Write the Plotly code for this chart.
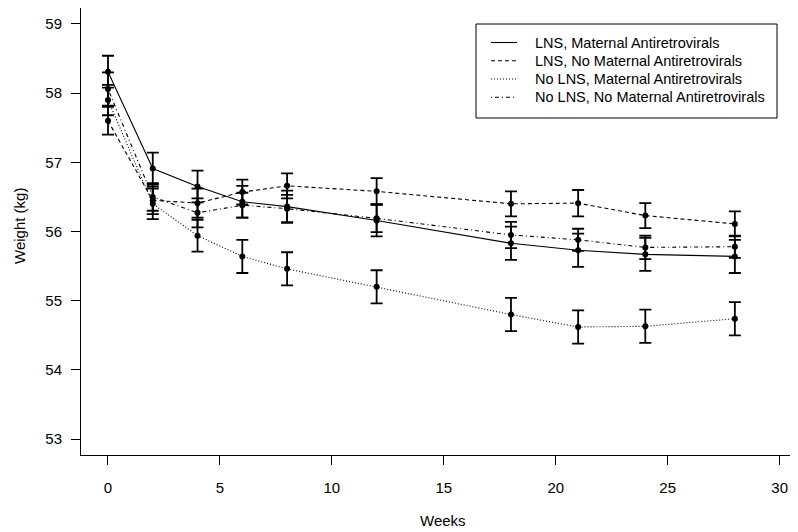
import plotly.graph_objects as go

weeks = [0, 2, 4, 6, 8, 12, 18, 21, 24, 28]

series_names = [
    "LNS, Maternal Antiretrovirals",
    "LNS, No Maternal Antiretrovirals",
    "No LNS, Maternal Antiretrovirals",
    "No LNS, No Maternal Antiretrovirals",
]

lns_art = [58.31, 56.91, 56.65, 56.43, 56.36, 56.16, 55.83, 55.73, 55.67, 55.64]
lns_art_se = [0.23, 0.23, 0.23, 0.23, 0.23, 0.23, 0.24, 0.24, 0.24, 0.24]

lns_noart = [57.60, 56.45, 56.41, 56.57, 56.66, 56.58, 56.40, 56.41, 56.23, 56.11]
lns_noart_se = [0.20, 0.20, 0.21, 0.18, 0.18, 0.19, 0.18, 0.19, 0.18, 0.18]

nolns_art = [57.90, 56.40, 55.94, 55.64, 55.46, 55.20, 54.80, 54.62, 54.63, 54.74]
nolns_art_se = [0.22, 0.22, 0.23, 0.24, 0.24, 0.24, 0.24, 0.24, 0.24, 0.24]

nolns_noart = [58.06, 56.50, 56.27, 56.38, 56.33, 56.19, 55.95, 55.88, 55.77, 55.78]
nolns_noart_se = [0.24, 0.20, 0.21, 0.18, 0.20, 0.20, 0.19, 0.16, 0.17, 0.16]

x_ticks = [0, 5, 10, 15, 20, 25, 30]
y_ticks = [53, 54, 55, 56, 57, 58, 59]

values = [lns_art, lns_noart, nolns_art, nolns_noart]
errors = [lns_art_se, lns_noart_se, nolns_art_se, nolns_noart_se]
dashes = ["solid", "4px,3px", "1px,2px", "1px,3px,4px,3px"]

FONT = "Liberation Sans, Arial, sans-serif"

fig = go.Figure()
for name, v, e, d in zip(series_names, values, errors, dashes):
    fig.add_trace(go.Scatter(
        x=weeks, y=v, mode="lines+markers", name=name, showlegend=False,
        line=dict(color="black", width=1.1, dash=d),
        marker=dict(color="black", size=6),
        error_y=dict(type="data", array=e, visible=True, color="black",
                     thickness=1.8, width=6),
    ))

# Page has an 8px body margin; figure is sized/positioned to compensate.
W, H = 790, 524
L, T = 73, 0
PW, PH = 717, 447
B = H - T - PH
R = W - L - PW


def px(xpage):
    return (xpage - 81) / PW


def py(ypage):
    return (455 - ypage) / PH


# legend box drawn manually to match the reference row spacing
shapes = [dict(type="rect", xref="paper", yref="paper",
               x0=px(476), x1=px(777), y0=py(24), y1=py(118),
               line=dict(color="black", width=1), fillcolor="white", layer="above")]
annotations = []
rows = [42.5, 60.8, 79.0, 97.3]
for name, d, ry in zip(series_names, dashes, rows):
    shapes.append(dict(type="line", xref="paper", yref="paper",
                       x0=px(491), x1=px(517), y0=py(ry), y1=py(ry),
                       line=dict(color="black", width=1.1, dash=d), layer="above"))
    annotations.append(dict(text=name, xref="paper", yref="paper",
                            x=px(533), y=py(ry), xanchor="left", yanchor="middle",
                            showarrow=False, font=dict(family=FONT, size=14.5)))

annotations += [
    dict(text="Weeks", xref="paper", yref="paper",
         x=px(443), y=py(520), xanchor="center", yanchor="middle",
         showarrow=False, font=dict(family=FONT, size=15)),
    dict(text="Weight (kg)", xref="paper", yref="paper",
         x=px(19), y=py(226), xanchor="center", yanchor="middle",
         textangle=-90, showarrow=False, font=dict(family=FONT, size=15)),
]

fig.update_layout(
    template="none",
    width=W, height=H,
    margin=dict(l=L, r=R, t=T, b=B, pad=0, autoexpand=False),
    paper_bgcolor="white", plot_bgcolor="white",
    font=dict(family=FONT, size=15, color="black"),
    showlegend=False,
    xaxis=dict(
        range=[-1.205, 30.82], tickvals=x_ticks, ticktext=[str(t) for t in x_ticks],
        ticks="outside", ticklen=9, tickwidth=1, tickcolor="black",
        showline=True, mirror=True, linecolor="black", linewidth=1,
        showgrid=False, zeroline=False, ticklabelstandoff=10, automargin=False,
    ),
    yaxis=dict(
        range=[52.77, 59.23], tickvals=y_ticks, ticktext=[str(t) for t in y_ticks],
        ticks="outside", ticklen=9, tickwidth=1, tickcolor="black",
        showline=True, mirror=True, linecolor="black", linewidth=1,
        showgrid=False, zeroline=False, ticklabelstandoff=6, automargin=False,
    ),
    shapes=shapes,
    annotations=annotations,
)

fig.write_html("out.html")
